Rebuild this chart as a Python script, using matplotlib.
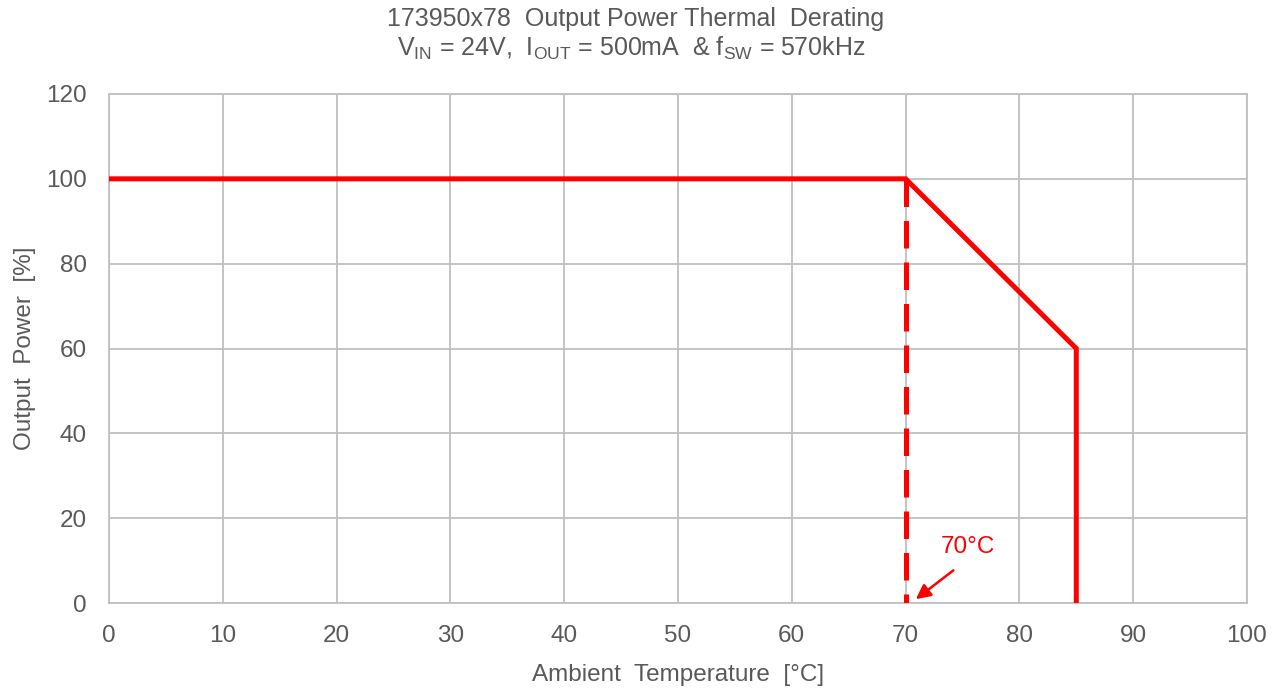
import matplotlib
matplotlib.use("Agg")
import matplotlib.pyplot as plt

plt.rcParams['font.family'] = ['Liberation Sans', 'DejaVu Sans']
plt.rcParams['mathtext.fontset'] = 'custom'
plt.rcParams['mathtext.rm'] = 'Liberation Sans'
plt.rcParams['mathtext.it'] = 'Liberation Sans'

temp = [0, 70, 85, 85]
power = [100, 100, 60, 0]
knee_x = [70, 70]
knee_y = [100, 0]
xticks = list(range(0, 101, 10))
yticks = list(range(0, 121, 20))

grey = '#595959'
gridc = '#bfbfbf'
red = '#ff0000'

fig = plt.figure(figsize=(12.84, 6.91), dpi=100)
ax = fig.add_axes([109/1284, 1-603/691, (1247-109)/1284, (603-94)/691])

ax.plot(knee_x, knee_y, color=red, lw=3.6, dashes=(5.5, 2.8), solid_capstyle='butt', zorder=3)
ax.plot(temp, power, color=red, lw=3.6, solid_joinstyle='miter', zorder=4)

ax.set_xlim(0, 100)
ax.set_ylim(0, 120)
ax.set_xticks(xticks)
ax.set_yticks(yticks)
ax.grid(True, color=gridc, lw=1.3)
ax.set_axisbelow(True)
for s in ax.spines.values():
    s.set_color(gridc)
    s.set_linewidth(1.3)
ax.tick_params(length=0, labelsize=17.5, colors=grey)
ax.tick_params(axis='y', pad=16)
ax.tick_params(axis='x', pad=16)

ax.set_xlabel('Ambient  Temperature  [°C]', fontsize=17.5, color=grey, labelpad=12)
ax.set_ylabel('Output  Power  [%]', fontsize=17.5, color=grey, labelpad=7)

fig.text(636/1284, 1-19/691, '173950x78  Output Power Thermal  Derating', ha='center', va='center', fontsize=18, color=grey)
fig.text(631/1284, 1-48/691, r'V$_{\mathrm{IN}}$ = 24V,  I$_{\mathrm{OUT}}$ = 500mA  & f$_{\mathrm{SW}}$ = 570kHz',
         ha='center', va='center', fontsize=18, color=grey)

ax.text(75.5, 13.3, '70°C', ha='center', va='center', fontsize=17.5, color=red)
ax.annotate('', xy=(70.9, 0.9), xytext=(74.2, 7.7),
            arrowprops=dict(arrowstyle='-|>', color=red, lw=1.8, mutation_scale=22,
                            shrinkA=0, shrinkB=0))

fig.savefig('out.png', dpi=100)
